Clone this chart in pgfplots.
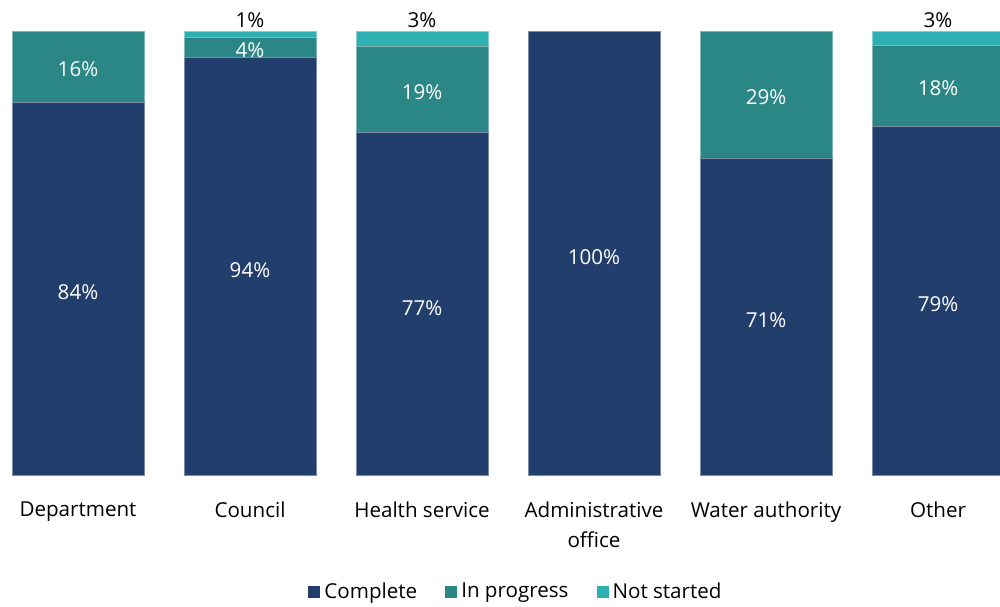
\documentclass[border=0pt]{standalone}
\usepackage{pgfplots}
\pgfplotsset{compat=1.18}
\usepackage{pgfplotstable}
\usepackage{fontspec}
\setmainfont{Open Sans}
\definecolor{cC}{HTML}{223E6C}
\definecolor{cIP}{HTML}{2B8686}
\definecolor{cNS}{HTML}{2EB0B2}
\newcommand\lab{\fontsize{10.3}{14.75}\selectfont}
\pgfplotstableread{
x C IP NS lC lIP lNS
0 84.0 16.0 0.0 84 16 0
1 94.1 4.4 1.5 94 4 1
2 77.1 19.5 3.4 77 19 3
3 100 0 0 100 0 0
4 71.4 28.6 0 71 29 0
5 78.6 18.2 3.2 79 18 3
}\datatable
\def\zerolab{0}
\begin{document}
\begin{tikzpicture}
\path[use as bounding box, clip] (0,-65.5pt) rectangle (500pt,237.5pt);
\begin{axis}[
  at={(0,0)}, anchor=south west, scale only axis,
  width=500pt, height=222pt,
  xmin=-0.4535, xmax=5.3605, ymin=0, ymax=100,
  ybar stacked, bar width=0.7674,
  axis x line=bottom, axis y line=none,
  axis line style={draw=none},
  major tick length=0pt,
  xtick={0,...,5},
  xticklabels={Department, Council, Health service, {Administrative\\office}, Water authority, Other},
  xticklabel style={align=center, font=\lab, inner sep=0pt, anchor=north, yshift=-13.3pt},
  point meta=explicit symbolic,
  nodes near coords={\edef\tmp{\pgfplotspointmeta}\ifx\tmp\zerolab\else\pgfplotspointmeta\%\fi},
  every node near coord/.append style={font=\lab},
  legend style={draw=none, at={(0.517,-0.2635)}, anchor=center, font=\lab,
    legend columns=3, /tikz/every even column/.append style={column sep=12pt}},
  legend image code/.code={\fill[#1, draw=none] (0pt,-3pt) rectangle (6pt,3pt);},
]
\addplot[fill=cC, draw=cC!60!white, line width=0.4pt,
  every node near coord/.append style={white, anchor=center, yshift=-2pt}]
  table[x=x, y=C, meta=lC] {\datatable};
\addplot[fill=cIP, draw=cIP!60!white, line width=0.4pt,
  every node near coord/.append style={white, anchor=center, yshift=-1.5pt}]
  table[x=x, y=IP, meta=lIP] {\datatable};
\addplot[fill=cNS, draw=cNS!60!white, line width=0.4pt,
  visualization depends on=rawy \as \rawy,
  every node near coord/.append style={black, anchor=south, inner sep=1.3pt, yshift={\rawy*1.11pt}}]
  table[x=x, y=NS, meta=lNS] {\datatable};
\legend{Complete, In progress, Not started}
\end{axis}
\end{tikzpicture}
\end{document}
